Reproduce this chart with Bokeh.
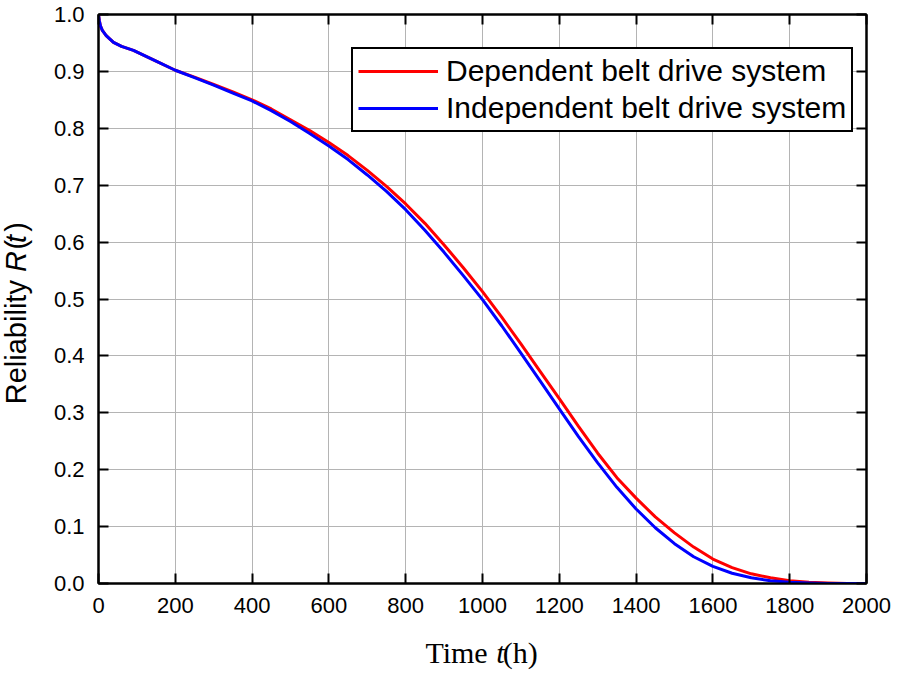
from bokeh.plotting import figure
from bokeh.models import LinearAxis, Label, FixedTicker, Range1d
from bokeh.embed import file_html
from bokeh.resources import INLINE
import math

# ---- data ----
time_h = [0, 2, 5, 10, 20, 39, 60, 91, 150, 200, 250, 300, 350, 400, 450, 500, 550,
          600, 650, 700, 750, 800, 850, 900, 950, 1000, 1050, 1100, 1150, 1200, 1250,
          1300, 1350, 1400, 1450, 1500, 1550, 1600, 1650, 1700, 1750, 1800, 1850,
          1900, 1950, 2000]
dependent = [1.0, 0.990, 0.980, 0.972, 0.963, 0.951, 0.944, 0.937, 0.918, 0.902,
             0.890, 0.877, 0.864, 0.850, 0.834, 0.815, 0.796, 0.775, 0.752, 0.726,
             0.698, 0.667, 0.633, 0.595, 0.555, 0.513, 0.468, 0.421, 0.373, 0.325,
             0.276, 0.229, 0.186, 0.150, 0.117, 0.089, 0.064, 0.043, 0.028, 0.017,
             0.010, 0.005, 0.002, 0.001, 0.0, 0.0]
independent = [1.0, 0.990, 0.980, 0.972, 0.963, 0.951, 0.944, 0.937, 0.918, 0.902,
               0.889, 0.876, 0.862, 0.848, 0.831, 0.812, 0.791, 0.769, 0.745, 0.718,
               0.689, 0.657, 0.621, 0.582, 0.541, 0.499, 0.453, 0.405, 0.356, 0.307,
               0.258, 0.212, 0.169, 0.131, 0.098, 0.070, 0.047, 0.030, 0.018, 0.010,
               0.005, 0.002, 0.001, 0.0, 0.0, 0.0]
x_ticks = list(range(0, 2001, 200))
y_ticks = [round(i * 0.1, 1) for i in range(11)]
series_names = ["Dependent belt drive system", "Independent belt drive system"]

W, H = 898, 673
BL, BR, BT, BB = 98, 32, 14, 90

p = figure(width=W, height=H, output_backend="svg", toolbar_location=None,
           x_range=Range1d(0, 2000), y_range=Range1d(0, 1.0),
           min_border_left=BL, min_border_right=BR, min_border_top=BT,
           min_border_bottom=BB)
p.background_fill_color = "white"
p.border_fill_color = "white"
p.outline_line_color = "black"
p.outline_line_width = 2

p.line(time_h, dependent, line_color="#ff0000", line_width=3, legend_label=series_names[0])
p.line(time_h, independent, line_color="#0000ff", line_width=3, legend_label=series_names[1])

# grid
p.xgrid.ticker = FixedTicker(ticks=x_ticks)
p.ygrid.ticker = FixedTicker(ticks=y_ticks)
for g in (p.xgrid, p.ygrid):
    g.grid_line_color = "#b4b4b4"
    g.grid_line_width = 1

def style_axis(ax, ticks, show_labels=True):
    ax.ticker = FixedTicker(ticks=ticks)
    ax.axis_line_color = "black"
    ax.axis_line_width = 2
    ax.major_tick_line_color = "black"
    ax.major_tick_line_width = 2
    ax.major_tick_in = 10
    ax.major_tick_out = 0
    ax.minor_tick_line_color = None
    ax.major_label_text_font = "Liberation Sans"
    if show_labels:
        ax.major_label_text_color = "black"
        ax.major_label_text_font_size = "22px"
        ax.major_label_standoff = 14
    else:
        ax.major_label_text_color = None
        ax.major_label_text_font_size = "1px"
        ax.major_label_standoff = 0

style_axis(p.xaxis[0], x_ticks)
style_axis(p.yaxis[0], y_ticks)
p.yaxis[0].major_label_overrides = {t: f"{t:.1f}" for t in y_ticks}
p.xaxis[0].major_label_overrides = {t: str(t) for t in x_ticks}

top_ax = LinearAxis()
style_axis(top_ax, x_ticks, show_labels=False)
p.add_layout(top_ax, "above")
right_ax = LinearAxis()
style_axis(right_ax, y_ticks, show_labels=False)
p.add_layout(right_ax, "right")

# legend
lg = p.legend[0]
lg.location = (253, 451)
lg.border_line_color = "black"
lg.border_line_width = 2
lg.border_line_alpha = 1
lg.background_fill_color = "white"
lg.background_fill_alpha = 1
lg.label_text_font = "Liberation Sans"
lg.label_text_font_size = "30px"
lg.label_text_color = "black"
lg.glyph_width = 80
lg.label_standoff = 8
lg.padding = 5
lg.spacing = 3
lg.margin = 0

# ---- axis labels: upright text with gaps + italic pieces (canvas pixels) ----
NB = "\u00a0"   # no-break space (same width as a space)
EN = "\u2002"   # en space (half an em)
sans_w = {' ': 278, 'R': 722, 'e': 556, 'l': 222, 'i': 222, 'a': 556, 'b': 556,
          't': 278, 'y': 500, '(': 333, ')': 333}
serif_w = {'T': 611, 'i': 278, 'm': 778, 'e': 444, ' ': 250, '(': 333, 'h': 500,
           ')': 333, 't': 278}

def text_w(s, table, size):
    return sum(table[c] for c in s) * size / 1000.0

def add_label(x, y, text, font, style, size, angle=0.0, place="below"):
    p.add_layout(Label(x=x, y=y, x_units="canvas", y_units="canvas", text=text,
                       text_font=font, text_font_style=style,
                       text_font_size=f"{size}px", text_color="black",
                       text_align="left", text_baseline="alphabetic",
                       text_line_height=0.05, angle=angle), place)

# x label: "Time t(h)"
xs = 30
xy = 652
x_total = text_w("Time t(h)", serif_w, xs)
x0 = (BL + (W - BR)) / 2 - x_total / 2
add_label(x0, xy, "Time" + NB + NB + "(h)", "Liberation Serif", "normal", xs, 0.0, "below")
add_label(x0 + text_w("Time ", serif_w, xs), xy, "t", "Liberation Serif", "italic", xs,
          0.0, "left")

# y label: "Reliability R(t)", rotated
ysz = 29
yx = 15
y_total = text_w("Reliability R(t)", sans_w, ysz)
y0 = 313.5 + y_total / 2
add_label(yx, y0, "Reliability" + NB + EN + NB + "(" + NB + ")", "Liberation Sans",
          "normal", ysz, math.pi / 2, "left")
add_label(yx, y0 - text_w("Reliability ", sans_w, ysz), "R" + NB + "t",
          "Liberation Sans", "italic", ysz, math.pi / 2, "right")

open("out.html", "w").write(file_html(p, INLINE))
